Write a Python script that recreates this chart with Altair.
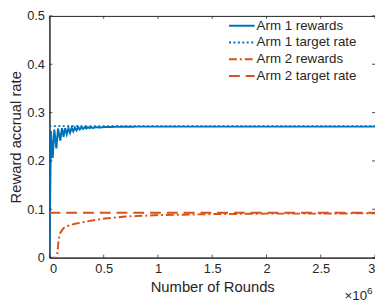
import altair as alt
import pandas as pd

# Data (x in units of 1e6 rounds)
arm1_x = [0, 0.014, 0.03, 0.045, 0.064, 0.079, 0.1, 0.115, 0.13, 0.145, 0.16, 0.175,
          0.19, 0.205, 0.22, 0.235, 0.25, 0.265, 0.28, 0.295, 0.31, 0.325, 0.34, 0.355,
          0.37, 0.385, 0.4, 0.43, 0.46, 0.5, 0.6, 0.8, 1.0, 1.5, 2.0, 2.5, 3.0]
arm1_y = [0, 0.262, 0.206, 0.265, 0.226, 0.267, 0.242, 0.268, 0.250, 0.268, 0.255, 0.268,
          0.258, 0.269, 0.261, 0.269, 0.263, 0.270, 0.265, 0.270, 0.266, 0.270, 0.267, 0.270,
          0.268, 0.270, 0.268, 0.270, 0.269, 0.270, 0.2705, 0.271, 0.271, 0.271, 0.271, 0.271, 0.271]
arm2_x = [0, 0.03, 0.068, 0.078, 0.085, 0.1, 0.13, 0.175, 0.236, 0.327, 0.418, 0.51,
          0.7, 1.0, 1.5, 2.0, 2.5, 3.0]
arm2_y = [0, 0, 0, 0.02, 0.038, 0.051, 0.061, 0.066, 0.070, 0.074, 0.078, 0.081,
          0.085, 0.088, 0.090, 0.091, 0.091, 0.092]
arm1_target = 0.272
arm2_target = 0.093

series_names = ["Arm 1 rewards", "Arm 1 target rate", "Arm 2 rewards", "Arm 2 target rate"]
series_colors = ["#0072BD", "#0072BD", "#D95319", "#D95319"]
series_dash = [[1, 0], [2, 2.5], [8, 3, 2, 3], [11, 6]]

x_ticks = [0, 0.5, 1, 1.5, 2, 2.5, 3]
y_ticks = [0, 0.1, 0.2, 0.3, 0.4, 0.5]

rows = []
for x, y in zip(arm1_x, arm1_y):
    rows.append({"x": x, "y": y, "s": series_names[0], "o": 0})
for x in [0, 3]:
    rows.append({"x": x, "y": arm1_target, "s": series_names[1], "o": 1})
for x, y in zip(arm2_x, arm2_y):
    rows.append({"x": x, "y": y, "s": series_names[2], "o": 2})
for x in [0, 3]:
    rows.append({"x": x, "y": arm2_target, "s": series_names[3], "o": 3})
df = pd.DataFrame(rows)

W, H = 330, 245
FONT = "Liberation Sans"
TXT = "#262626"

xscale = alt.Scale(domain=[0, 3], nice=False, zero=False)
yscale = alt.Scale(domain=[0, 0.5], nice=False)
cscale = alt.Scale(domain=series_names, range=series_colors)
dscale = alt.Scale(domain=series_names, range=series_dash)

lines = alt.Chart(df).mark_line(strokeWidth=2, clip=True).encode(
    x=alt.X("x:Q", scale=xscale,
            axis=alt.Axis(values=x_ticks, format="~g", title="Number of Rounds",
                          ticks=False, labelPadding=5, titlePadding=4,
                          grid=False)),
    y=alt.Y("y:Q", scale=yscale,
            axis=alt.Axis(values=y_ticks, format="~g", title="Reward accrual rate",
                          ticks=False, labelPadding=5, titlePadding=3, grid=False)),
    color=alt.Color("s:N", scale=cscale, legend=None),
    strokeDash=alt.StrokeDash("s:N", scale=dscale, legend=None),
    order="o:Q",
    detail="s:N",
)

# manual legend (layout positions in pixels)
LX0, LX1, LY0, LSTEP = 182, 208, 10, 17
ldf = pd.DataFrame({"s": series_names,
                    "py": [LY0 + i * LSTEP for i in range(len(series_names))]})
leg_sym = alt.Chart(ldf).mark_rule(strokeWidth=2).encode(
    x=alt.value(LX0), x2=alt.value(LX1),
    y=alt.Y("py:Q", scale=None, axis=None),
    color=alt.Color("s:N", scale=cscale, legend=None),
    strokeDash=alt.StrokeDash("s:N", scale=dscale, legend=None),
)
leg_txt = alt.Chart(ldf).mark_text(
    font=FONT, fontSize=13.5, color=TXT, align="left", baseline="middle", dx=0
).encode(
    x=alt.value(LX1 + 2),
    y=alt.Y("py:Q", scale=None, axis=None),
    text="s:N",
)

xt = pd.DataFrame({"t": x_ticks})
yt = pd.DataFrame({"t": y_ticks})
TL = 3
xb = alt.Chart(xt).mark_rule(color=TXT, strokeWidth=0.8).encode(
    x=alt.X("t:Q", scale=xscale), y=alt.value(H), y2=alt.value(H - TL))
xtp = alt.Chart(xt).mark_rule(color=TXT, strokeWidth=0.8).encode(
    x=alt.X("t:Q", scale=xscale), y=alt.value(0), y2=alt.value(TL))
yl = alt.Chart(yt).mark_rule(color=TXT, strokeWidth=0.8).encode(
    y=alt.Y("t:Q", scale=yscale), x=alt.value(0), x2=alt.value(TL))
yr = alt.Chart(yt).mark_rule(color=TXT, strokeWidth=0.8).encode(
    y=alt.Y("t:Q", scale=yscale), x=alt.value(W), x2=alt.value(W - TL))

mult = alt.Chart(pd.DataFrame({"a": [1]})).mark_text(
    text="×10", font=FONT, fontSize=13.5, color=TXT, align="right", baseline="alphabetic"
).encode(x=alt.value(W - 8), y=alt.value(H + 43))
sup = alt.Chart(pd.DataFrame({"a": [1]})).mark_text(
    text="6", font=FONT, fontSize=10, color=TXT, align="left", baseline="alphabetic"
).encode(x=alt.value(W - 8), y=alt.value(H + 37))

chart = alt.layer(lines, xb, xtp, yl, yr, leg_sym, leg_txt, mult, sup).properties(
    width=W, height=H,
    background="white",
    autosize=alt.AutoSizeParams(type="none"),
    padding={"left": 42, "top": 6, "right": 0, "bottom": 46},
).configure_view(stroke=TXT, strokeWidth=1).configure_axis(
    labelFont=FONT, labelFontSize=13, labelColor=TXT,
    titleFont=FONT, titleFontSize=15, titleColor=TXT, titleFontWeight="normal",
    domainColor=TXT, domainWidth=1,
)

chart.save("out.html", embed_options={"renderer": "svg", "actions": False})
